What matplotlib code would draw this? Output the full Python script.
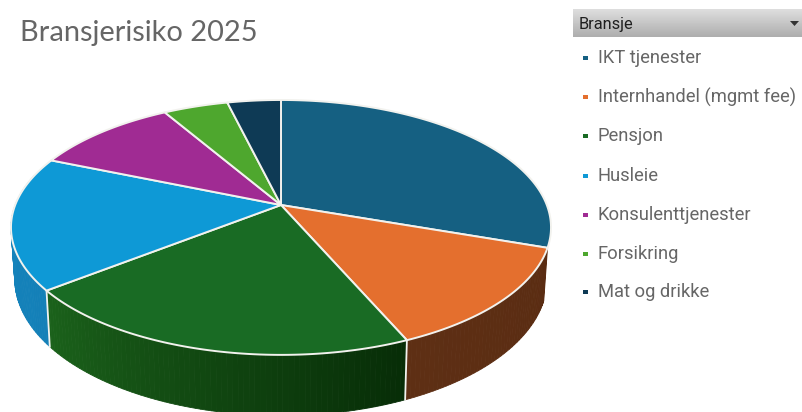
import numpy as np
import matplotlib
matplotlib.use('Agg')
import matplotlib.pyplot as plt
from matplotlib.colors import to_rgb

title = 'Bransjerisiko 2025'
filter_name = 'Bransje'
categories = ['IKT tjenester', 'Internhandel (mgmt fee)', 'Pensjon', 'Husleie',
              'Konsulenttjenester', 'Forsikring', 'Mat og drikke']
shares = [30.3, 13.2, 20.9, 16.9, 10.3, 4.6, 3.8]
colors = ['#156082', '#e46f2e', '#196b24', '#0e99d6', '#a02b93', '#4ea72e', '#0e3a55']
# side wall colour at the left and right end of each slice
side_left = ['#0e4058', '#5e2f14', '#1b621b', '#1585bd', '#6a1c62', '#33701e', '#092638']
side_right = ['#0e4058', '#5a2c12', '#072d07', '#1480b8', '#6a1c62', '#33701e', '#092638']

W, H = 803, 412
CX, CY = 281, 205
RX, RY = 265.8, 123.5
K = 0.176
DEPTH = 50


def project(t, drop=0.0):
    # t is clockwise from 12 o'clock, the disc is tilted towards the viewer
    X, Y = np.sin(t), -np.cos(t)
    w = 1 - K * Y
    x = CX + RX * X / w * (1 - 0.014 * (drop > 0))
    y = CY + (RY * Y + drop) / w
    return x, y


fig = plt.figure(figsize=(W / 100, H / 100), dpi=100)
ax = fig.add_axes([0, 0, 1, 1])
ax.set_xlim(0, W)
ax.set_ylim(H, 0)
ax.axis('off')

edges = np.radians(np.concatenate([[0], np.cumsum(shares)]) / np.sum(shares) * 360)

# side wall first, the top surface goes over it (first slice has no visible wall)
for i in range(1, len(shares)):
    a0, a1 = edges[i], edges[i + 1]
    n = max(int((a1 - a0) / np.radians(1.0)), 2)
    ts = np.linspace(a0, a1, n + 1)
    c0, c1 = np.array(to_rgb(side_left[i])), np.array(to_rgb(side_right[i]))
    for j in range(n):
        if np.cos(ts[j]) > 0.25:  # back part is hidden
            continue
        f = j / max(n - 1, 1)
        # slices run clockwise, so the first part of a front slice is on the right
        col = c1 * (1 - f) + c0 * f
        x0, y0 = project(ts[j])
        x1, y1 = project(ts[j + 1])
        x2, y2 = project(ts[j + 1], DEPTH)
        x3, y3 = project(ts[j], DEPTH)
        ax.fill([x0, x1, x2, x3], [y0, y1, y2, y3], color=col, lw=0.6, zorder=1)

# white seams between the walls
for a in edges[2:-1]:
    if np.cos(a) < 0.25:
        x0, y0 = project(a)
        x1, y1 = project(a, DEPTH)
        ax.plot([x0, x1], [y0, y1], color='#f2f2ee', lw=1.3, zorder=2)

# top surface
for i in range(len(shares)):
    ts = np.linspace(edges[i], edges[i + 1], 120)
    x, y = project(ts)
    ax.fill(np.r_[CX, x], np.r_[CY, y], facecolor=colors[i], edgecolor='#f2f2ee',
            lw=1.4, joinstyle='round', zorder=3)

ax.text(20, 33, title, fontsize=20.9, color='#666666', family='Lato', va='center', zorder=5)

# slicer header with gradient
grad = np.linspace(0.87, 0.68, 30).reshape(-1, 1)
ax.imshow(grad, extent=[573, W, 37, 9], cmap='gray', vmin=0, vmax=1, aspect='auto', zorder=4)
ax.set_xlim(0, W)
ax.set_ylim(H, 0)
ax.text(579, 24, filter_name, fontsize=11.8, color='#1f1f1f', family='Roboto', va='center', zorder=5)
ax.fill([790, 799, 794.5], [21, 21, 26], color='#333333', lw=0, zorder=5)

# slicer entries
rows = [58, 97, 136, 176, 215, 254, 292]
for name, col, y in zip(categories, colors, rows):
    ax.fill([583, 588, 588, 583], [y - 2, y - 2, y + 2, y + 2], color=col, lw=0, zorder=5)
    ax.text(598, y, name, fontsize=13.2, color='#666666', family='Roboto', va='center', zorder=5)

fig.savefig('out.png', dpi=100, facecolor='white')
